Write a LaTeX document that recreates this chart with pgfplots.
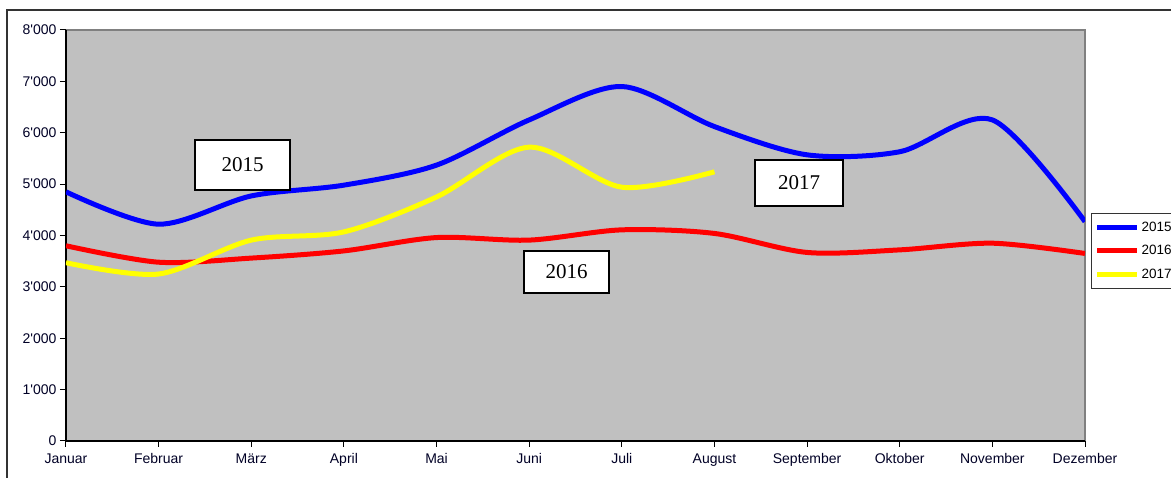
\documentclass[border=0pt]{standalone}
\usepackage{fontspec}
\setmainfont{Liberation Serif}
\newfontfamily\arial{Liberation Sans}
\usepackage{pgfplots}
\pgfplotsset{compat=1.18}
\definecolor{bgc}{HTML}{C0C0C0}
\definecolor{yel}{HTML}{FFFF00}
\begin{document}
\begin{tikzpicture}[x=1pt,y=1pt]
\clip (0,0) rectangle (1171,478);
\fill[white] (0,0) rectangle (1171,478);
\draw[line width=1.5pt, black!80] (7,-20) -- (7,468) -- (1200,468);
\begin{axis}[
  at={(66pt,37pt)}, anchor=south west, scale only axis,
  width=1019pt, height=411pt,
  xmin=0, xmax=11, ymin=0, ymax=8000,
  axis background/.style={fill=bgc, draw=gray, line width=1.5pt},
  axis lines=left, axis line style={-, black, line width=1.3pt},
  tick align=outside, major tick length=6pt,
  tick style={black, line width=1pt},
  xtick={0,...,11},
  xticklabels={Januar,Februar,März,April,Mai,Juni,Juli,August,September,Oktober,November,Dezember},
  ytick={0,1000,...,8000},
  yticklabels={0,1'000,2'000,3'000,4'000,5'000,6'000,7'000,8'000},
  ticklabel style={font=\arial\fontsize{14}{16}\selectfont, text=black!85!blue},
  xticklabel style={yshift=-3pt},
  legend style={at={(1.0059,0.5547)}, anchor=north west, draw=black!80, line width=1.2pt,
    fill=white, font=\arial\fontsize{13.5}{15}\selectfont, row sep=9pt, inner xsep=3pt, inner ysep=6pt,
    cells={anchor=west}},
  legend image code/.code={\draw[#1, line width=5pt] (0pt,0pt) -- (40pt,0pt);},
  every axis plot/.append style={line width=5pt, smooth, no markers},
]
\addplot[blue] coordinates {(0,4850) (1,4220) (2,4770) (3,4980) (4,5370) (5,6250) (6,6900) (7,6120) (8,5570) (9,5630) (10,6250) (11,4270)};
\addlegendentry{2015}
\addplot[red] coordinates {(0,3800) (1,3480) (2,3560) (3,3700) (4,3960) (5,3910) (6,4110) (7,4040) (8,3670) (9,3720) (10,3850) (11,3650)};
\addlegendentry{2016}
\addplot[yel] coordinates {(0,3470) (1,3250) (2,3910) (3,4070) (4,4750) (5,5720) (6,4940) (7,5240)};
\addlegendentry{2017}
\end{axis}
\node[draw=black, line width=1.2pt, fill=white, minimum width=95pt, minimum height=50pt,
  font=\fontsize{21}{23}\selectfont] at (242.5,313) {2015};
\node[draw=black, line width=1.2pt, fill=white, minimum width=85pt, minimum height=42pt,
  font=\fontsize{21}{23}\selectfont] at (566.5,206) {2016};
\node[draw=black, line width=1.2pt, fill=white, minimum width=88pt, minimum height=46pt,
  font=\fontsize{21}{23}\selectfont] at (799,295) {2017};
\end{tikzpicture}
\end{document}
